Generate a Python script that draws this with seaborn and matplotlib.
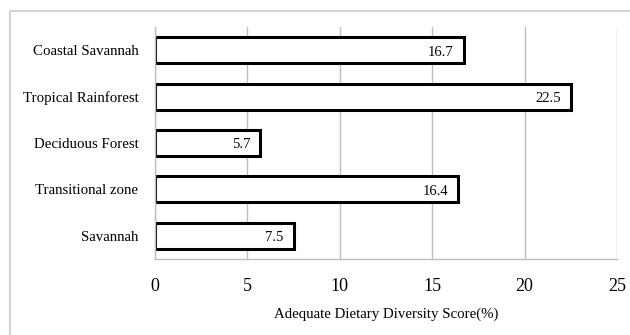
import matplotlib
matplotlib.use("Agg")
import matplotlib.pyplot as plt
import seaborn as sns
import pandas as pd
from matplotlib.patches import Rectangle

zones = ["Coastal Savannah", "Tropical Rainforest", "Deciduous Forest", "Transitional zone", "Savannah"]
scores = [16.7, 22.5, 5.7, 16.4, 7.5]
xticks = [0, 5, 10, 15, 20, 25]
xlabel = "Adequate Dietary Diversity Score(%)"

sns.set_theme(style="white")
plt.rcParams["font.family"] = ["Liberation Serif", "DejaVu Serif"]

df = pd.DataFrame({"zone": zones, "score": scores})

fig = plt.figure(figsize=(6.3, 3.35), dpi=100)
ax = fig.add_axes([155/630, 1-259/335, (617-155)/630, (259-27)/335])

sns.barplot(data=df, x="score", y="zone", order=zones, color="white",
            edgecolor="black", linewidth=2.2, width=0.56, ax=ax, saturation=1)

ax.set_xlim(0, 25)
ax.set_xticks(xticks)
ax.set_xticklabels([str(t) for t in xticks], fontsize=13)
ax.tick_params(axis="x", length=0, pad=14)
ax.tick_params(axis="y", length=0, pad=12, labelsize=10.7)
for lbl in ax.get_yticklabels():
    lbl.set_color("black")
for lbl in ax.get_xticklabels():
    lbl.set_color("black")
ax.set_ylabel("")
ax.set_xlabel(xlabel, fontsize=10.7, color="black", labelpad=9)
ax.xaxis.grid(True, color="#bfbfbf", linewidth=1)
ax.set_axisbelow(True)
for s in ["top", "right"]:
    ax.spines[s].set_visible(False)
for s in ["left", "bottom"]:
    ax.spines[s].set_color("#bfbfbf")
    ax.spines[s].set_linewidth(1)

for i, v in enumerate(scores):
    ax.annotate(f"{v}", xy=(v, i), xytext=(-10, -2), textcoords="offset pixels",
                ha="right", va="center", fontsize=10.5, color="black")

frame = Rectangle((10/630, -0.2), 1.2, 1 - 11/335 + 0.2, transform=fig.transFigure,
                  fill=False, edgecolor="#d0d0d0", linewidth=1.3, zorder=0)
fig.patches.append(frame)

fig.savefig("out.png", dpi=100)
